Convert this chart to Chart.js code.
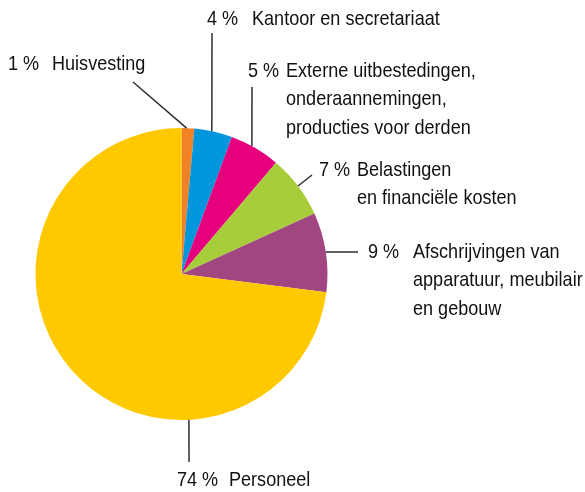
<!DOCTYPE html>
<html>
<head>
<meta charset="utf-8">
<script src="https://cdn.jsdelivr.net/npm/chart.js@4/dist/chart.umd.min.js"></script>
<style>
html,body{margin:0;padding:0;background:#fff;}
#wrap{position:relative;width:585px;height:492px;}
</style>
</head>
<body>
<div id="wrap"><canvas id="c" width="585" height="492"></canvas></div>
<script>
// ---- data ----
const categories = [
  ['Huisvesting'],
  ['Kantoor en secretariaat'],
  ['Externe uitbestedingen,', 'onderaannemingen,', 'producties voor derden'],
  ['Belastingen', 'en financiële kosten'],
  ['Afschrijvingen van', 'apparatuur, meubilair', 'en gebouw'],
  ['Personeel']
];
const values = [1.4, 4.2, 5.6, 7.0, 8.8, 73.0];
const percentLabels = ['1 %', '4 %', '5 %', '7 %', '9 %', '74 %'];
const colors = ['#F28226', '#0096DB', '#E6007E', '#A7CE3A', '#A14680', '#FFC900'];

// ---- label layout (annotation placement only) ----
const labelLayout = [
  {t: 0.40, end: [133, 82],  pctX: 8,   txtX: 52,  y: 64},
  {t: 0.46, end: [212, 33],  pctX: 207, txtX: 252, y: 19},
  {t: 0.43, end: [252, 87],  pctX: 248, txtX: 286, y: 71},
  {t: 0.50, end: [312, 175], pctX: 319, txtX: 357, y: 170},
  {t: 0.50, end: [358, 252], pctX: 368, txtX: 413, y: 252},
  {t: 0.304, end: [189, 462], pctX: 177, txtX: 229, y: 480}
];
const lineGap = 28.5;
const FONT = '21px "Liberation Sans", Arial, sans-serif';
const SX = 0.86;

function narrowText(ctx, s, x, y) {
  ctx.save();
  ctx.translate(x, y);
  ctx.scale(SX, 1);
  ctx.fillText(s, 0, 0);
  ctx.restore();
}

const labelPlugin = {
  id: 'labels',
  afterDraw(chart) {
    const ctx = chart.ctx;
    const arcs = chart.getDatasetMeta(0).data;
    ctx.save();
    arcs.forEach((arc, i) => {
      const L = labelLayout[i];
      const p = arc.getProps(['x', 'y', 'startAngle', 'endAngle', 'outerRadius'], true);
      const a = p.startAngle + (p.endAngle - p.startAngle) * L.t;
      const sx = p.x + Math.cos(a) * p.outerRadius;
      const sy = p.y + Math.sin(a) * p.outerRadius;
      ctx.strokeStyle = '#2a2f36';
      ctx.lineWidth = 1.5;
      ctx.beginPath();
      ctx.moveTo(sx, sy);
      ctx.lineTo(L.end[0], L.end[1]);
      ctx.stroke();
      ctx.fillStyle = '#111111';
      ctx.font = FONT;
      ctx.textAlign = 'left';
      ctx.textBaseline = 'middle';
      narrowText(ctx, percentLabels[i], L.pctX, L.y);
      categories[i].forEach((line, k) => {
        narrowText(ctx, line, L.txtX, L.y + k * lineGap);
      });
    });
    ctx.restore();
  }
};

new Chart(document.getElementById('c'), {
  type: 'pie',
  data: {
    labels: categories.map(c => c.join(' ')),
    datasets: [{
      data: values,
      backgroundColor: colors,
      borderWidth: 0
    }]
  },
  options: {
    responsive: false,
    devicePixelRatio: 1,
    animation: false,
    layout: {padding: {left: 35, top: 128, right: 257, bottom: 72}},
    plugins: {legend: {display: false}, tooltip: {enabled: false}}
  },
  plugins: [labelPlugin]
});
</script>
</body>
</html>
